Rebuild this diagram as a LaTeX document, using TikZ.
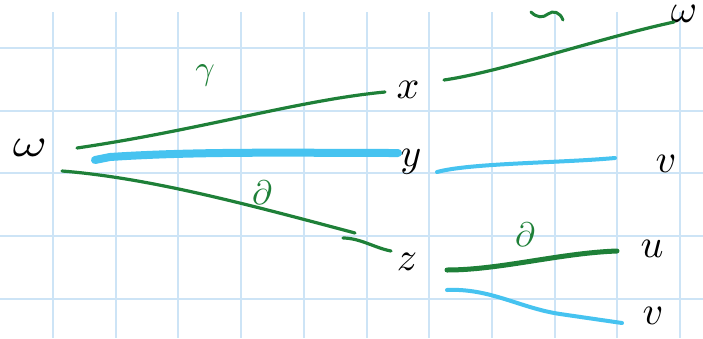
\documentclass[tikz,border=0pt]{standalone}
\usepackage{amsmath}
\definecolor{gridblue}{RGB}{205,228,246}
\definecolor{pgreen}{RGB}{30,128,56}
\definecolor{pblue}{RGB}{70,195,240}
\tikzset{
  lbl/.style={inner sep=0pt, scale=4},
  glbl/.style={inner sep=0pt, text=pgreen, scale=3.4},
  gline/.style={draw=pgreen, line width=3.2pt, line cap=round},
  gthick/.style={draw=pgreen, line width=5pt, line cap=round},
  bline/.style={draw=pblue, line width=4pt, line cap=round},
  bthick/.style={draw=pblue, line width=8pt, line cap=round},
  gridline/.style={draw=gridblue, line width=2pt}
}
\begin{document}
\begin{tikzpicture}[x=1pt,y=-1pt]
\useasboundingbox (0,0) rectangle (703,338);
\fill[white] (0,0) rectangle (703,338);
% grid
\foreach \gx in {53,115.7,178.4,241.1,303.8,366.5,429.2,491.9,554.6,617.3,680}
  \draw[gridline] (\gx,12) -- (\gx,338);
\foreach \gy in {48,110.7,173.4,236.1,298.8}
  \draw[gridline] (0,\gy) -- (703,\gy);
% nodes
\node[lbl, xscale=1.3] (w) at (30,148) {$\omega$};
\node[lbl] (x) at (408,90) {$x$};
\node[lbl] (y) at (411,162) {$y$};
\node[lbl] (z) at (407,262) {$z$};
\node[lbl, anchor=north east] (wt) at (698,4) {$\omega$};
\node[lbl] (v1) at (666,164) {$v$};
\node[lbl] (u) at (652,249) {$u$};
\node[lbl] (v2) at (653,316) {$v$};
% endpoints
\coordinate (a1) at (77,148);  \coordinate (a2) at (385,92);
\coordinate (b1) at (95,160);  \coordinate (b2) at (398,153);
\coordinate (c1) at (62,171);  \coordinate (c2) at (355,233);
\coordinate (c3) at (343,238); \coordinate (c4) at (391,251);
\coordinate (d1) at (444,80);  \coordinate (d2) at (674,22);
\coordinate (e1) at (437,172); \coordinate (e2) at (615,158);
\coordinate (f1) at (447,270); \coordinate (f2) at (617,251);
\coordinate (g1) at (447,290); \coordinate (g2) at (622,323);
% connectors
\draw[gline] (a1) .. controls (200,130) and (300,100) .. (a2);
\draw[bthick] (b1) -- (110,157) .. controls (200,151) and (300,153) .. (b2);
\draw[gline] (c1) .. controls (150,178) and (250,205) .. (c2);
\draw[gline] (c3) .. controls (360,238) and (375,248) .. (c4);
\draw[gline] (d1) .. controls (500,72) and (600,38) .. (d2);
\draw[bline] (e1) .. controls (470,163) and (560,163) .. (e2);
\draw[gthick] (f1) .. controls (500,270) and (560,253) .. (f2);
\draw[bline] (g1) .. controls (490,288) and (520,308) .. (560,314) -- (g2);
% labels
\node[glbl] (lg) at (205,75) {$\gamma$};
\node[glbl] (ld1) at (262,193) {$\partial$};
\node[glbl] (ld2) at (525,235) {$\partial$};
\draw[draw=pgreen, line width=3pt, line cap=round] (531,12) .. controls (537,18) and (543,18) .. (548,14) .. controls (553,10) and (560,12) .. (563,20);
\end{tikzpicture}
\end{document}
